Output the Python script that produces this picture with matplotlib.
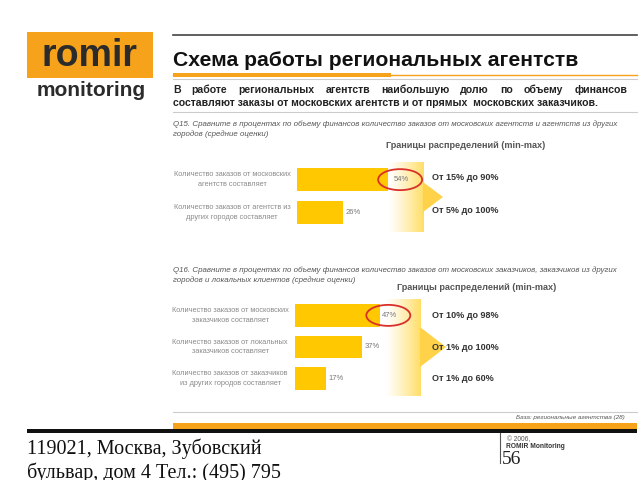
import numpy as np
import matplotlib
matplotlib.use("Agg")
import matplotlib.pyplot as plt
from matplotlib.patches import Rectangle, Ellipse, Polygon
from matplotlib.textpath import TextPath
from matplotlib.font_manager import FontProperties

plt.rcParams['font.family'] = ['Liberation Sans', 'DejaVu Sans']

# ---------------- data ----------------
title = "Схема работы региональных агентств"
subtitle1 = "В работе региональных агентств наибольшую долю по объему финансов"
subtitle2 = "составляют заказы от московских агентств и от прямых  московских заказчиков."

q15_text = ["Q15. Сравните в процентах по объему финансов количество заказов от московских агентств и агентств из других",
            "городов (средние оценки)"]
q15_cats = ["Количество заказов от московских\nагентств составляет",
            "Количество заказов от агентств из\nдругих городов составляет"]
q15_vals = [54, 26]
q15_ranges = ["От 15% до 90%", "От 5% до 100%"]

q16_text = ["Q16. Сравните в процентах по объему финансов количество заказов от московских заказчиков, заказчиков из других",
            "городов и локальных клиентов (средние оценки)"]
q16_cats = ["Количество заказов от московских\nзаказчиков составляет",
            "Количество заказов от локальных\nзаказчиков составляет",
            "Количество заказов от заказчиков\nиз других городов составляет"]
q16_vals = [47, 37, 17]
q16_ranges = ["От 10% до 98%", "От 1% до 100%", "От 1% до 60%"]

range_header = "Границы распределений (min-max)"
base_note = "База: региональные агентства (28)"
address = ["119021, Москва, Зубовский", "бульвар, дом 4 Тел.: (495) 795"]
page_no = "56"

BAR = "#FFC800"
ORANGE = "#F7A21B"
W, H = 640, 480

fig = plt.figure(figsize=(6.4, 4.8), dpi=100)

def px_axes(x0, y0, x1, y1):
    return fig.add_axes([x0 / W, 1 - y1 / H, (x1 - x0) / W, (y1 - y0) / H])

def bar_block(box, vals, xmax, ylim_pad):
    ax = px_axes(*box)
    ax.set_xlim(0, xmax)
    n = len(vals)
    ax.set_ylim(n - 0.5 + ylim_pad, -0.5 - ylim_pad)
    ax.barh(np.arange(n), vals, height=0.72, color=BAR, edgecolor='none')
    for i, v in enumerate(vals):
        if i > 0:
            ax.text(v + 1.5, i, f"{v}%", va='center', ha='left', fontsize=5.5,
                    color='#777777', zorder=20)
    ax.axis('off')
    ax.set_zorder(1)
    return ax

ax15 = bar_block((297, 160, 472, 232), q15_vals, 100, 0.1)
ax16 = bar_block((295, 298, 475, 396), q16_vals, 100, 0.05)

ov = fig.add_axes([0, 0, 1, 1])
ov.set_xlim(0, W)
ov.set_ylim(H, 0)
ov.axis('off')
ov.set_zorder(5)
ov.patch.set_alpha(0)

# logo
ov.add_patch(Rectangle((27, 32), 126, 46, color=ORANGE, lw=0))
ov.text(90, 56, "romir", fontsize=27, fontweight='bold', color='#2b2b2b',
        ha='center', va='center')
ov.text(91, 90, "monitoring", fontsize=15, fontweight='bold', color='#2b2b2b',
        ha='center', va='center')

# header lines & title
ov.plot([173, 637], [35, 35], color='#444444', lw=1.2)
ov.text(173, 61, title, fontsize=15.2, fontweight='bold', color='#111111',
        ha='left', va='center')
ov.plot([173, 637], [74.5, 74.5], color=ORANGE, lw=1.0)
ov.add_patch(Rectangle((173, 72.5), 218, 4, color=ORANGE, lw=0))
ov.plot([173, 637], [79, 79], color='#cccccc', lw=0.8)

# justified first subtitle line
fp = FontProperties(family='Liberation Sans', weight='bold', size=7.6)
words = subtitle1.split()
wid = [TextPath((0, 0), w_, prop=fp).get_extents().width * 100 / 72 for w_ in words]
gap = ((627 - 173) - sum(wid)) / (len(words) - 1)
xx = 173
for w_, wd in zip(words, wid):
    ov.text(xx, 90, w_, fontproperties=fp, color='#222222', ha='left', va='center')
    xx += wd + gap
ov.text(173, 103, subtitle2, fontproperties=fp, color='#222222', ha='left', va='center')
ov.plot([173, 637], [112, 112], color='#cccccc', lw=0.8)

# question texts
for k, line in enumerate(q15_text):
    ov.text(173, 124 + k * 10, line, fontsize=5.65, style='italic', color='#555555',
            ha='left', va='center')
for k, line in enumerate(q16_text):
    ov.text(173, 270 + k * 10, line, fontsize=5.65, style='italic', color='#555555',
            ha='left', va='center')

ov.text(386, 145, range_header, fontsize=6.6, fontweight='bold', color='#555555',
        ha='left', va='center')
ov.text(397, 287, range_header, fontsize=6.6, fontweight='bold', color='#555555',
        ha='left', va='center')

# category labels
for i, c in enumerate(q15_cats):
    yc = ax15.transData.transform((0, i))[1]
    ov.text(232, H - yc, c, fontsize=5.3, color='#8a8a8a', ha='center', va='center',
            linespacing=1.5)
for i, c in enumerate(q16_cats):
    yc = ax16.transData.transform((0, i))[1]
    ov.text(230, H - yc, c, fontsize=5.3, color='#8a8a8a', ha='center', va='center',
            linespacing=1.5)

# gradient boxes + arrows
def gradient_box(x0, y0, x1, y1):
    g = np.linspace(0, 1, 64) ** 1.2
    c0 = np.array([1.0, 1.0, 1.0])
    c1 = np.array([1.0, 0.87, 0.40])
    img = (c0[None, :] * (1 - g[:, None]) + c1[None, :] * g[:, None])[None, :, :]
    ov.imshow(img, extent=(x0, x1, y1, y0), aspect='auto', zorder=3,
              interpolation='bilinear')

gradient_box(388, 162, 424, 232)
ov.add_patch(Polygon([[423, 182], [443, 197], [423, 212]], closed=True,
                     color='#FFD24A', lw=0, zorder=3))
gradient_box(385, 299, 421, 396)
ov.add_patch(Polygon([[420, 327], [446, 347], [420, 367]], closed=True,
                     color='#FFD24A', lw=0, zorder=3))
ov.set_xlim(0, W)
ov.set_ylim(H, 0)

# first-bar value labels on top of the gradient + red ellipses
for ax, vals in ((ax15, q15_vals), (ax16, q16_vals)):
    x, y = ax.transData.transform((vals[0] + 1.5, 0))
    ov.text(x, H - y, f"{vals[0]}%", fontsize=5.5, color='#777777', ha='left',
            va='center', zorder=6)
    ov.add_patch(Ellipse((x + 6, H - y), 44, 21, fill=False, edgecolor='#D9302A',
                         lw=1.3, zorder=7))

# range texts
for i, r in enumerate(q15_ranges):
    yc = ax15.transData.transform((0, i))[1]
    ov.text(432, H - yc - 2, r, fontsize=6.5, fontweight='bold', color='#333333',
            ha='left', va='center', zorder=8)
for i, r in enumerate(q16_ranges):
    yc = ax16.transData.transform((0, i))[1]
    ov.text(432, H - yc, r, fontsize=6.5, fontweight='bold', color='#333333',
            ha='left', va='center', zorder=8)

# footer
ov.plot([173, 637], [412, 412], color='#cccccc', lw=0.8)
ov.text(625, 418, base_note, fontsize=4.6, style='italic', color='#555555',
        ha='right', va='center')
ov.add_patch(Rectangle((173, 423), 464, 6, color=ORANGE, lw=0))
ov.add_patch(Rectangle((27, 429), 610, 4, color='#111111', lw=0))
for k, line in enumerate(address):
    ov.text(27, 449 + k * 24, line, fontsize=14.5, family='Liberation Serif',
            color='#111111', ha='left', va='center')
ov.plot([500, 500], [433, 463], color='#555555', lw=0.8)
ov.text(507, 440, "© 2006,", fontsize=4.8, color='#555555', ha='left', va='center')
ov.text(506, 447, "ROMIR Monitoring", fontsize=4.8, fontweight='bold',
        color='#333333', ha='left', va='center')
ov.text(502, 459, page_no, fontsize=14, family='Liberation Serif', color='#222222',
        ha='left', va='center')

fig.savefig("out.png", dpi=100)
